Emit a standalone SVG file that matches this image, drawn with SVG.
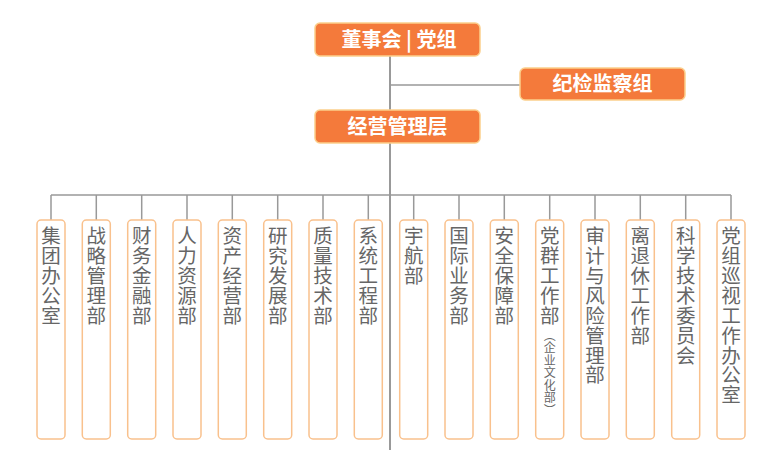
<svg xmlns="http://www.w3.org/2000/svg" width="783" height="450" viewBox="0 0 783 450">
<style>
.top{fill:#f47a3b;stroke:#fbcf8c;stroke-width:1.5}
.tt{fill:#ffffff;font-family:"Noto Sans CJK SC","Noto Sans",sans-serif;font-size:20px;font-weight:bold;text-anchor:middle}
.dept{fill:#ffffff;stroke:#f9c18d;stroke-width:1.5}
.dt{fill:#666666;font-family:"Noto Sans CJK SC","Noto Sans",sans-serif;font-size:19.5px;writing-mode:vertical-rl;text-orientation:upright;letter-spacing:0.4px}
.st{fill:#666666;font-family:"Noto Sans CJK SC","Noto Sans",sans-serif;font-size:12px;writing-mode:vertical-rl;text-orientation:mixed;letter-spacing:0.5px}
.ln{stroke:#999999;stroke-width:1.5;fill:none}
.main{stroke:#999999;stroke-width:2;fill:none}
</style>
<rect width="783" height="450" fill="#ffffff"/>
<g id="connectors">
<path class="main" d="M390 56V110M390 143V450"/>
<path class="ln" d="M390 85H520"/>
<path class="ln" d="M51 195H731"/>
<path class="ln" d="M51 195V220M96.3 195V220M141.7 195V220M187 195V220M232.3 195V220M277.7 195V220M323 195V220M368.3 195V220M413.7 195V220M459 195V220M504.3 195V220M549.7 195V220M595 195V220M640.3 195V220M685.7 195V220M731 195V220"/>
</g>
<g id="board"><rect class="top" x="315" y="23" width="165" height="33" rx="5"/><text class="tt" x="399" y="46.5">董事会 | 党组</text></g>
<g id="discipline"><rect class="top" x="520" y="68" width="165" height="32" rx="5"/><text class="tt" x="602.5" y="91">纪检监察组</text></g>
<g id="management"><rect class="top" x="315" y="110" width="165" height="33" rx="5"/><text class="tt" x="397.5" y="133.5">经营管理层</text></g>
<g id="d1"><rect class="dept" x="37" y="220" width="28" height="219" rx="4"/><text class="dt" x="51" y="226">集团办公室</text></g>
<g id="d2"><rect class="dept" x="82.3" y="220" width="28" height="219" rx="4"/><text class="dt" x="96.3" y="226">战略管理部</text></g>
<g id="d3"><rect class="dept" x="127.7" y="220" width="28" height="219" rx="4"/><text class="dt" x="141.7" y="226">财务金融部</text></g>
<g id="d4"><rect class="dept" x="173" y="220" width="28" height="219" rx="4"/><text class="dt" x="187" y="226">人力资源部</text></g>
<g id="d5"><rect class="dept" x="218.3" y="220" width="28" height="219" rx="4"/><text class="dt" x="232.3" y="226">资产经营部</text></g>
<g id="d6"><rect class="dept" x="263.7" y="220" width="28" height="219" rx="4"/><text class="dt" x="277.7" y="226">研究发展部</text></g>
<g id="d7"><rect class="dept" x="309" y="220" width="28" height="219" rx="4"/><text class="dt" x="323" y="226">质量技术部</text></g>
<g id="d8"><rect class="dept" x="354.3" y="220" width="28" height="219" rx="4"/><text class="dt" x="368.3" y="226">系统工程部</text></g>
<g id="d9"><rect class="dept" x="399.7" y="220" width="28" height="219" rx="4"/><text class="dt" x="413.7" y="226">宇航部</text></g>
<g id="d10"><rect class="dept" x="445" y="220" width="28" height="219" rx="4"/><text class="dt" x="459" y="226">国际业务部</text></g>
<g id="d11"><rect class="dept" x="490.3" y="220" width="28" height="219" rx="4"/><text class="dt" x="504.3" y="226">安全保障部</text></g>
<g id="d12"><rect class="dept" x="535.7" y="220" width="28" height="219" rx="4"/><text class="dt" x="549.7" y="226">党群工作部</text><text class="st" x="549.7" y="329">（企业文化部）</text></g>
<g id="d13"><rect class="dept" x="581" y="220" width="28" height="219" rx="4"/><text class="dt" x="595" y="226">审计与风险管理部</text></g>
<g id="d14"><rect class="dept" x="626.3" y="220" width="28" height="219" rx="4"/><text class="dt" x="640.3" y="226">离退休工作部</text></g>
<g id="d15"><rect class="dept" x="671.7" y="220" width="28" height="219" rx="4"/><text class="dt" x="685.7" y="226">科学技术委员会</text></g>
<g id="d16"><rect class="dept" x="717" y="220" width="28" height="219" rx="4"/><text class="dt" x="731" y="226">党组巡视工作办公室</text></g>
</svg>
